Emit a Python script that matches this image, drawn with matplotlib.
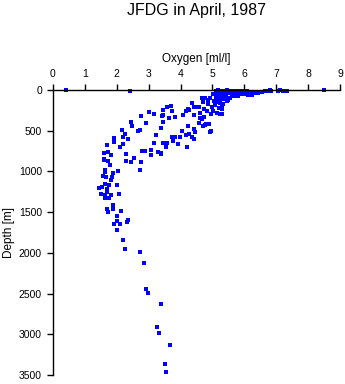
import matplotlib
matplotlib.use("Agg")
import matplotlib.pyplot as plt

plt.rcParams['font.family'] = ['Liberation Sans', 'DejaVu Sans']

# oxygen [ml/l] and depth [m]
# surface outliers
ox_surf = [0.40, 2.43, 8.50]
dep_surf = [5, 8, 5]

# dense near-surface cluster
ox_top = [5.12, 5.18, 5.25, 5.30, 5.38, 5.45, 5.50, 5.58, 5.65, 5.70, 5.78, 5.85,
          5.92, 6.00, 6.08, 6.15, 6.25, 6.35, 6.45, 6.55, 6.65, 6.75, 6.85, 7.05,
          7.12, 7.25, 7.35, 5.15, 5.22, 5.31, 5.42, 5.53, 5.61, 5.72, 5.81, 5.93,
          6.02, 6.12, 6.22, 6.31, 6.43, 5.10, 5.16, 5.26, 5.36, 5.44, 5.56, 5.66,
          5.80, 5.05, 5.14, 5.24, 5.33, 5.47, 6.24, 6.43, 6.65, 6.80, 7.20, 5.20,
          5.40, 5.60, 5.28, 5.50]
dep_top = [8, 4, 10, 6, 12, 5, 9, 14, 6, 11, 16, 9,
           13, 20, 16, 22, 18, 25, 20, 26, 14, 12, 10, 8,
           5, 7, 6, 35, 45, 38, 52, 40, 48, 42, 55, 50,
           46, 58, 52, 40, 35, 80, 95, 75, 105, 88, 92, 78,
           74, 130, 150, 125, 165, 140, 61, 37, 12, 2, 9, 60,
           68, 30, 110, 120]

# upper part of the profile (oxycline)
ox_mid = [3.58, 3.02, 3.16, 3.44, 3.44, 3.64, 3.45, 2.75, 2.92, 2.45, 2.49, 2.73,
          2.66, 2.16, 2.26, 2.18, 1.90, 2.36, 3.22, 1.91, 2.20, 3.18, 3.44, 3.56,
          3.54, 1.70, 2.11, 1.61, 1.72, 1.83, 2.30, 2.78, 2.89, 3.06, 3.07, 3.28,
          3.39, 3.38, 1.61, 2.55, 3.71, 3.72, 3.83, 3.39, 4.04, 4.23, 4.41, 4.44,
          4.26, 4.16, 3.98, 4.36, 4.43, 3.72, 3.83, 3.75, 3.92, 4.21, 3.49, 4.09,
          4.17, 4.24, 4.36, 4.41, 4.43, 4.55, 4.61, 4.67, 4.70, 4.60, 4.68, 4.72,
          4.80, 4.71, 4.77, 4.90, 4.92, 4.73, 4.82, 4.87, 4.85, 4.92, 4.77, 5.01,
          4.97, 4.94, 5.03, 5.08, 5.13, 5.19, 5.24, 5.30, 5.30, 5.29, 5.15, 5.24,
          5.34, 4.27, 4.59, 4.59, 4.96, 3.41]
dep_mid = [209, 270, 299, 250, 311, 348, 397, 323, 409, 397, 446, 495,
           508, 495, 540, 581, 589, 606, 556, 643, 659, 651, 647, 655,
           704, 680, 704, 770, 757, 802, 790, 753, 753, 741, 798, 761,
           778, 790, 851, 839, 200, 258, 332, 467, 503, 442, 479, 512,
           544, 553, 577, 577, 602, 581, 581, 626, 667, 696, 655, 303,
           262, 233, 160, 213, 307, 209, 282, 102, 144, 344, 352, 332,
           414, 442, 434, 414, 512, 233, 258, 168, 119, 94, 94, 53,
           209, 295, 262, 184, 286, 225, 295, 295, 192, 237, 131, 160,
           82, 246, 213, 401, 503, 315]

# oxygen minimum layer and deep water
ox_deep = [1.60, 1.73, 2.28, 2.45, 2.77, 1.80, 2.74, 1.64, 1.64, 1.89, 2.05, 1.58,
           1.67, 1.86, 1.82, 1.63, 1.76, 2.02, 1.54, 1.45, 1.70, 1.70, 1.51, 1.64,
           1.83, 2.08, 1.63, 1.77, 1.89, 1.68, 1.73, 1.87, 2.14, 2.00, 2.00, 1.92,
           2.10, 2.31, 2.36, 2.00, 2.20, 2.27, 2.74, 2.86, 2.92, 2.99, 3.38, 3.27,
           3.33, 3.66, 3.51, 3.54]
dep_deep = [860, 872, 868, 888, 888, 925, 979, 982, 1011, 1023, 999, 1056,
            1068, 1068, 1105, 1158, 1170, 1170, 1195, 1207, 1212, 1249, 1281, 1293,
            1293, 1277, 1330, 1326, 1408, 1465, 1502, 1465, 1486, 1547, 1609, 1650,
            1642, 1617, 1600, 1715, 1846, 1957, 1993, 2128, 2440, 2489, 2632, 2914,
            2980, 3127, 3369, 3467]

oxygen = ox_surf + ox_top + ox_mid + ox_deep
depth = dep_surf + dep_top + dep_mid + dep_deep

fig = plt.figure(figsize=(3.45, 3.84), dpi=100)
ax = fig.add_axes([0.1536, 0.0234, 0.832, 0.742])

ax.scatter(oxygen, depth, s=6, marker='s', color='#0000ff', linewidths=0, clip_on=False)

ax.set_xlim(0, 9)
ax.set_ylim(3500, 0)
ax.set_xticks(range(0, 10))
ax.set_yticks(range(0, 3501, 500))

ax.xaxis.tick_top()
ax.xaxis.set_label_position('top')
ax.spines['right'].set_visible(False)
ax.spines['bottom'].set_visible(False)
ax.spines['top'].set_linewidth(1.0)
ax.spines['left'].set_linewidth(1.0)
ax.tick_params(axis='both', direction='out', length=4, width=1.0, labelsize=7.5, pad=4)

ax.set_xlabel('Oxygen [ml/l]', fontsize=8.5, labelpad=5)
ax.set_ylabel('Depth [m]', fontsize=8.5, labelpad=3)

fig.text(196.5 / 345, 1 - 11 / 384, 'JFDG in April, 1987', ha='center', va='center', fontsize=11.5)

fig.savefig('out.png', dpi=100)
